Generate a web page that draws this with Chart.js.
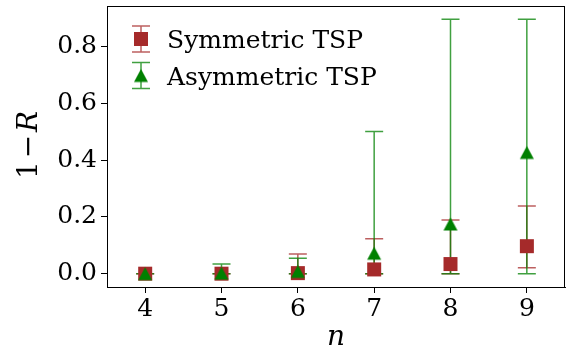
<!DOCTYPE html>
<html>
<head>
<meta charset="utf-8">
<script src="https://cdn.jsdelivr.net/npm/chart.js@4.4.1/dist/chart.umd.min.js"></script>
<style>
  html, body { margin: 0; padding: 0; background: #fff; }
  #wrap { width: 566px; height: 351px; }
</style>
</head>
<body>
<div id="wrap"><canvas id="chart" width="566" height="351"></canvas></div>
<script>
// problem size n
const nValues = [4, 5, 6, 7, 8, 9];

// symmetric TSP: 1 - R, with lower / upper error bar ends
const symMean = [0.0, 0.0, 0.002, 0.015, 0.034, 0.097];
const symLow  = [0.0, 0.0, 0.0, 0.0, 0.0, 0.021];
const symHigh = [0.0, 0.0, 0.069, 0.123, 0.189, 0.238];

// asymmetric TSP
const asymMean = [0.0, 0.002, 0.008, 0.072, 0.175, 0.427];
const asymLow  = [0.0, 0.0, 0.0, 0.0, 0.0, 0.0];
const asymHigh = [0.0, 0.034, 0.054, 0.501, 0.896, 0.896];

const xTicks = [4, 5, 6, 7, 8, 9];
const yTicks = [0.0, 0.2, 0.4, 0.6, 0.8];

const RED = '#a52a2a';
const GREEN = '#008000';
const FONT = "'DejaVu Serif', 'Liberation Serif', serif";

// marker images (centered on their bounding box like matplotlib)
function squareMarker(color) {
    const c = document.createElement('canvas');
    c.width = 16; c.height = 16;
    const g = c.getContext('2d');
    g.fillStyle = color;
    g.fillRect(1, 1, 14, 14);
    return c;
}
function triangleMarker(color) {
    const c = document.createElement('canvas');
    c.width = 16; c.height = 16;
    const g = c.getContext('2d');
    g.fillStyle = color;
    g.beginPath();
    g.moveTo(8, 1.5);
    g.lineTo(15, 14.5);
    g.lineTo(1, 14.5);
    g.closePath();
    g.fill();
    return c;
}

const sqImg = squareMarker(RED);
const triImg = triangleMarker(GREEN);

const series = [
    { label: 'Symmetric TSP', color: 'rgba(165,42,42,0.75)', low: symLow, high: symHigh },
    { label: 'Asymmetric TSP', color: 'rgba(0,128,0,0.75)', low: asymLow, high: asymHigh }
];

// scale padding from tick labels is not wanted, the plot box is fixed
function zeroPad(scale) {
    scale.paddingLeft = 0; scale.paddingRight = 0;
    scale.paddingTop = 0; scale.paddingBottom = 0;
}

// error bars, drawn under the markers
const errorBars = {
    id: 'errorBars',
    beforeDatasetsDraw(chart) {
        const ctx = chart.ctx;
        const xs = chart.scales.x, ys = chart.scales.y;
        ctx.save();
        ctx.lineWidth = 1.5;
        series.forEach(s => {
            ctx.strokeStyle = s.color;
            nValues.forEach((n, i) => {
                const x = xs.getPixelForValue(n);
                const y0 = ys.getPixelForValue(s.low[i]);
                const y1 = ys.getPixelForValue(s.high[i]);
                ctx.beginPath();
                ctx.moveTo(x, y0); ctx.lineTo(x, y1);
                ctx.moveTo(x - 9, y0); ctx.lineTo(x + 9, y0);
                ctx.moveTo(x - 9, y1); ctx.lineTo(x + 9, y1);
                ctx.stroke();
            });
        });
        ctx.restore();
    }
};

// frame, axis titles and legend
const decorations = {
    id: 'decorations',
    afterDraw(chart) {
        const ctx = chart.ctx;
        const a = chart.chartArea;
        ctx.save();
        ctx.strokeStyle = '#000';
        ctx.lineWidth = 1;
        ctx.strokeRect(Math.round(a.left) + 0.5, Math.round(a.top) + 0.5,
            Math.round(a.right - a.left) - 1, Math.round(a.bottom - a.top));

        // x title
        ctx.fillStyle = '#000';
        ctx.textAlign = 'center';
        ctx.textBaseline = 'alphabetic';
        ctx.font = 'italic 28px ' + FONT;
        ctx.fillText('n', 336, 345);

        // y title: 1 − R
        ctx.save();
        ctx.translate(37, 145);
        ctx.rotate(-Math.PI / 2);
        ctx.font = '28px ' + FONT;
        const p1 = '1\u200A\u2212\u200A';
        const w1 = ctx.measureText(p1).width;
        ctx.font = 'italic 28px ' + FONT;
        const w2 = ctx.measureText('R').width;
        const start = -(w1 + w2) / 2;
        ctx.textAlign = 'left';
        ctx.font = '28px ' + FONT;
        ctx.fillText(p1, start, 0);
        ctx.font = 'italic 28px ' + FONT;
        ctx.fillText('R', start + w1, 0);
        ctx.restore();

        // legend
        const items = [
            { text: 'Symmetric TSP', img: sqImg, color: series[0].color, cy: 39, base: 48 },
            { text: 'Asymmetric TSP', img: triImg, color: series[1].color, cy: 75.5, base: 85 }
        ];
        ctx.font = '25px ' + FONT;
        ctx.textAlign = 'left';
        items.forEach(it => {
            const x = 141;
            ctx.strokeStyle = it.color;
            ctx.lineWidth = 1.5;
            ctx.beginPath();
            ctx.moveTo(x, it.cy - 13); ctx.lineTo(x, it.cy + 13);
            ctx.moveTo(x - 9, it.cy - 13); ctx.lineTo(x + 9, it.cy - 13);
            ctx.moveTo(x - 9, it.cy + 13); ctx.lineTo(x + 9, it.cy + 13);
            ctx.stroke();
            ctx.drawImage(it.img, x - it.img.width / 2, it.cy - it.img.height / 2);
            ctx.fillStyle = '#000';
            ctx.fillText(it.text, 167, it.base);
        });
        ctx.restore();
    }
};

const ctx = document.getElementById('chart').getContext('2d');

new Chart(ctx, {
    type: 'scatter',
    data: {
        datasets: [{
            label: 'Symmetric TSP',
            data: nValues.map((n, i) => ({ x: n, y: symMean[i] })),
            pointStyle: sqImg,
            backgroundColor: RED,
            borderColor: RED,
            order: 1
        }, {
            label: 'Asymmetric TSP',
            data: nValues.map((n, i) => ({ x: n, y: asymMean[i] })),
            pointStyle: triImg,
            backgroundColor: GREEN,
            borderColor: GREEN,
            order: 0
        }]
    },
    options: {
        responsive: false,
        animation: false,
        devicePixelRatio: 1,
        layout: { autoPadding: false, padding: { top: 6, right: 1, left: 0, bottom: 0 } },
        plugins: {
            legend: { display: false },
            tooltip: { enabled: false }
        },
        scales: {
            x: {
                type: 'linear',
                min: 3.5,
                max: 9.5,
                afterBuildTicks: scale => { scale.ticks = xTicks.map(v => ({ value: v })); },
                afterFit: scale => { scale.height = 64; zeroPad(scale); },
                grid: { drawOnChartArea: false, drawTicks: true, tickLength: 6, tickColor: '#000' },
                border: { display: true, color: '#000', width: 1 },
                ticks: {
                    color: '#000',
                    padding: 1,
                    maxRotation: 0,
                    font: { family: FONT, size: 25 },
                    callback: v => String(v)
                }
            },
            y: {
                type: 'linear',
                min: -0.047,
                max: 0.943,
                afterBuildTicks: scale => { scale.ticks = yTicks.map(v => ({ value: v })); },
                afterFit: scale => { scale.width = 107; zeroPad(scale); },
                grid: { drawOnChartArea: false, drawTicks: true, tickLength: 6, tickColor: '#000' },
                border: { display: true, color: '#000', width: 1 },
                ticks: {
                    color: '#000',
                    padding: 4,
                    font: { family: FONT, size: 25 },
                    callback: v => v.toFixed(1)
                }
            }
        }
    },
    plugins: [errorBars, decorations]
});
</script>
</body>
</html>
